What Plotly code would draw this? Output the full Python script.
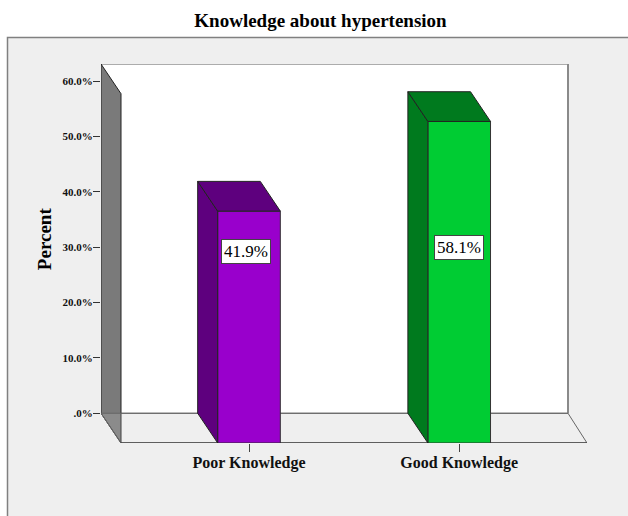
import plotly.graph_objects as go

# ---- data ----
categories = ["Poor Knowledge", "Good Knowledge"]
percent = [41.9, 58.1]
bar_labels = ["41.9%", "58.1%"]
tick_values = [0, 10, 20, 30, 40, 50, 60]
tick_labels = [".0%", "10.0%", "20.0%", "30.0%", "40.0%", "50.0%", "60.0%"]

# ---- styles ----
front_colors = ["#9900CC", "#00CC33"]
dark_colors = ["#5E007E", "#007A1E"]
W, H = 628, 516
L, R, T, B = 101, 587, 64, 442.7       # plot box in pixels
PX_PER_UNIT = 5.53                     # pixels per percentage point
PX_PER_CAT = 210.2                     # pixels between categories
CAT0_PX = 249                          # pixel of the first category
DX = 20 / PX_PER_CAT                   # depth in x units
DY = 29.7 / PX_PER_UNIT                # depth in y units
BW = 0.298                             # bar width in x units
XR = [(L - CAT0_PX) / PX_PER_CAT, (R - CAT0_PX) / PX_PER_CAT]
Y_FRONT = [0, (B - T) / PX_PER_UNIT]
Y_BACK = [-DY, Y_FRONT[1] - DY]
WALL = Y_BACK[1]
X_FL, X_FR = XR[0] + DX, XR[1]         # front-left / front-right of the floor
X_BL, X_BR = XR[0], XR[1] - 19 / PX_PER_CAT   # back-left / back-right of the floor
SERIF = "Liberation Serif"

fig = go.Figure()


def poly(xs, ys, fill, axis, line="#555555", width=1):
    fig.add_trace(go.Scatter(
        x=xs, y=ys, yaxis=axis, mode="lines", fill="toself", fillcolor=fill,
        line=dict(color=line, width=width), hoverinfo="skip", showlegend=False))


# back wall, left wall, floor (rear plane axis)
poly([X_BL, X_BR, X_BR, X_BL, X_BL], [0, 0, WALL, WALL, 0], "#FFFFFF", "y", "#5a5a5a")
fig.add_trace(go.Scatter(x=[X_BR, X_BR], y=[0, WALL], mode="lines", yaxis="y",
                         line=dict(color="#8a8a8a", width=2),
                         hoverinfo="skip", showlegend=False))
poly([X_BL, X_FL, X_FL, X_BL, X_BL], [0, -DY, WALL - DY, WALL, 0], "#7A7A7A", "y", "#222222")
poly([X_BL, X_BR, X_FR, X_FL, X_BL], [0, 0, -DY, -DY, 0], "rgba(239,239,239,0.15)", "y", "#666666")
fig.add_trace(go.Scatter(x=[X_FL, X_FR], y=[-DY, -DY], mode="lines", yaxis="y",
                         line=dict(color="#444444", width=1.5),
                         hoverinfo="skip", showlegend=False))

# bars (front plane axis)
for i, v in enumerate(percent):
    left, right = i - BW / 2, i + BW / 2
    fig.add_trace(go.Bar(x=[i], y=[v], width=BW, yaxis="y2", showlegend=False,
                         marker=dict(color=front_colors[i], line=dict(color="#333333", width=1)),
                         hoverinfo="skip"))
    poly([left, left - DX, left - DX, left, left], [0, DY, v + DY, v, 0], dark_colors[i], "y2", "#222222")
    poly([left, left - DX, right - DX, right, left], [v, v + DY, v + DY, v, v], dark_colors[i], "y2", "#222222")

fig.update_layout(
    width=W, height=H, autosize=False,
    margin=dict(l=L, r=W - R, t=T, b=H - B, pad=0),
    paper_bgcolor="#FFFFFF", plot_bgcolor="rgba(0,0,0,0)",
    font=dict(family=SERIF, color="#000000"),
    showlegend=False, barmode="overlay",
    title=dict(text="<b>Knowledge about hypertension</b>", font=dict(family=SERIF, size=19, color="#000000"),
               x=320.5 / W, xanchor="center", y=1 - 20 / H, yanchor="middle"),
    xaxis=dict(range=XR, tickmode="array", tickvals=[0, 1], ticktext=categories,
               ticks="outside", ticklen=8, tickcolor="#444444", showgrid=False, zeroline=False,
               showline=False, ticklabelstandoff=-3,
               tickfont=dict(family=SERIF, size=16, weight=700, color="#111111")),
    yaxis=dict(range=Y_BACK, tickmode="array", tickvals=tick_values, ticktext=tick_labels,
               ticks="outside", ticklen=7, tickcolor="#333333", showgrid=False, zeroline=False,
               showline=False, ticklabelstandoff=-2,
               tickfont=dict(family=SERIF, size=11, weight=700, color="#111111")),
    yaxis2=dict(range=Y_FRONT, overlaying="y", visible=False, showgrid=False, zeroline=False),
    shapes=[dict(type="rect", layer="below", xref="paper", yref="paper",
                 x0=(7.5 - L) / (R - L), x1=(W + 20 - L) / (R - L),
                 y0=-(H + 20 - B) / (B - T), y1=(T - 37.5) / (B - T) + 1,
                 fillcolor="#EFEFEF", line=dict(color="#808080", width=1.5))],
    annotations=[
        dict(text="<b>Percent</b>", textangle=-90, xref="paper", yref="paper",
             x=(44 - L) / (R - L), y=(B - 239) / (B - T), xanchor="center", yanchor="middle",
             showarrow=False, font=dict(family=SERIF, size=19, color="#000000")),
    ] + [
        dict(text=bar_labels[i], xref="x", yref="y2", x=i + (-3.2 if i == 0 else -0.7) / PX_PER_CAT,
             y=(B - (251.5 if i == 0 else 247)) / PX_PER_UNIT, showarrow=False,
             bgcolor="#FFFFFF", bordercolor="#444444", borderwidth=1, borderpad=2,
             font=dict(family=SERIF, size=17, color="#000000"))
        for i in range(2)
    ],
)

fig.write_html("out.html", config={"displayModeBar": False},
               post_script="document.body.style.margin='0';document.body.style.overflow='hidden';")
